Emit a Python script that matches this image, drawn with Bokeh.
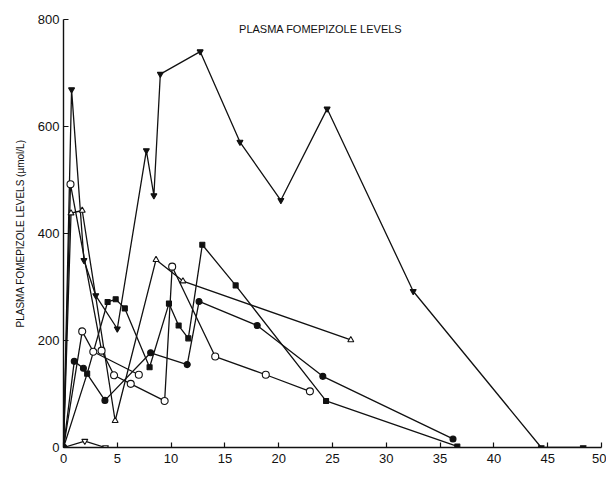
from bokeh.plotting import figure
from bokeh.models import Range1d, FixedTicker, Label
from bokeh.embed import file_html
from bokeh.resources import INLINE

# ---- data ----
fit_x = [0, 0.75, 1.9, 3.0, 5.0, 7.7, 8.4, 9.0, 12.7, 16.4, 20.2, 24.5, 32.5, 44.4, 48.3]
fit_y = [0, 669, 350, 284, 222, 555, 471, 698, 740, 571, 462, 633, 292, 0, 0]

ot_x = [0, 0.7, 1.74, 4.8, 8.6, 11.1, 26.7]
ot_y = [0, 438, 443, 50, 351, 311, 201]

oca_x = [0, 0.65, 3.54, 4.7, 6.25, 9.4, 10.1, 14.1, 18.8, 22.9]
oca_y = [0, 492, 181, 135, 119, 87, 338, 170, 136, 105]

ocb_x = [0, 1.74, 2.77, 7.0]
ocb_y = [0, 217, 179, 136]

fc_x = [0, 1.0, 1.85, 3.85, 8.1, 11.5, 12.6, 18.0, 24.1, 36.2]
fc_y = [0, 161, 148, 88, 177, 155, 273, 228, 133, 16]

fs_x = [0, 2.2, 4.1, 4.85, 5.7, 8.0, 9.8, 10.7, 11.6, 12.9, 16.0, 24.4, 36.6]
fs_y = [0, 138, 272, 277, 260, 150, 269, 228, 204, 379, 303, 87, 2]

oit_x = [0, 1.98, 3.9]
oit_y = [0, 12, 0]

x_ticks = [0, 5, 10, 15, 20, 25, 30, 35, 40, 45, 50]
y_ticks = [0, 200, 400, 600, 800]

title_text = "PLASMA FOMEPIZOLE LEVELS"
y_label = "PLASMA FOMEPIZOLE LEVELS (\u00b5mol/L)"
x_label = "TIME"

FONT = "Liberation Sans"

p = figure(width=606, height=487, output_backend="svg", toolbar_location=None,
           x_range=Range1d(0, 50), y_range=Range1d(0, 800),
           min_border_left=63, min_border_right=5, min_border_top=19, min_border_bottom=40)

p.outline_line_color = None
p.xgrid.visible = False
p.ygrid.visible = False
p.background_fill_color = "white"
p.border_fill_color = "white"

for ax in (p.xaxis, p.yaxis):
    ax.axis_line_color = "#111111"
    ax.axis_line_width = 1.4
    ax.major_tick_in = 5
    ax.major_tick_out = 0
    ax.major_tick_line_color = "#111111"
    ax.major_tick_line_width = 1.2
    ax.minor_tick_line_color = None
    ax.major_label_text_font = FONT
    ax.major_label_text_font_size = "13px"
    ax.major_label_text_color = "#111111"

p.xaxis.ticker = FixedTicker(ticks=x_ticks)
p.yaxis.ticker = FixedTicker(ticks=y_ticks)
p.xaxis.major_label_standoff = 6
p.yaxis.major_label_standoff = 4

p.yaxis.axis_label = y_label
p.yaxis.axis_label_text_font = FONT
p.yaxis.axis_label_text_font_size = "10px"
p.yaxis.axis_label_text_font_style = "normal"
p.yaxis.axis_label_standoff = 9
p.yaxis.axis_label_text_color = "#111111"

LW = 1.3
C = "#111111"

series = [
    (fit_x, fit_y, "inverted_triangle", C, 6),
    (ot_x, ot_y, "triangle", "white", 6),
    (oca_x, oca_y, "circle", "white", 7),
    (ocb_x, ocb_y, "circle", "white", 7),
    (fc_x, fc_y, "circle", C, 6),
    (fs_x, fs_y, "square", C, 5),
    (oit_x, oit_y, "inverted_triangle", "white", 6),
]

for xs, ys, mk, fill, sz in series:
    p.line(xs, ys, line_color=C, line_width=LW)
for xs, ys, mk, fill, sz in series:
    p.scatter(xs[1:], ys[1:], marker=mk, size=sz, fill_color=fill,
              line_color=C, line_width=1.1)

# origin marker
p.scatter([fc_x[0]], [fc_y[0]], marker="circle", size=7, fill_color=C, line_color=C)

p.add_layout(Label(x=23.9, y=783, text=title_text, text_font=FONT,
                   text_font_size="11px", text_align="center",
                   text_baseline="middle", text_color="#111111"))
p.add_layout(Label(x=26.0, y=0, y_offset=-31, text=x_label, text_font=FONT,
                   text_font_size="9px", text_align="center",
                   text_baseline="middle", text_color="#111111"))

open("out.html", "w").write(file_html(p, INLINE))
